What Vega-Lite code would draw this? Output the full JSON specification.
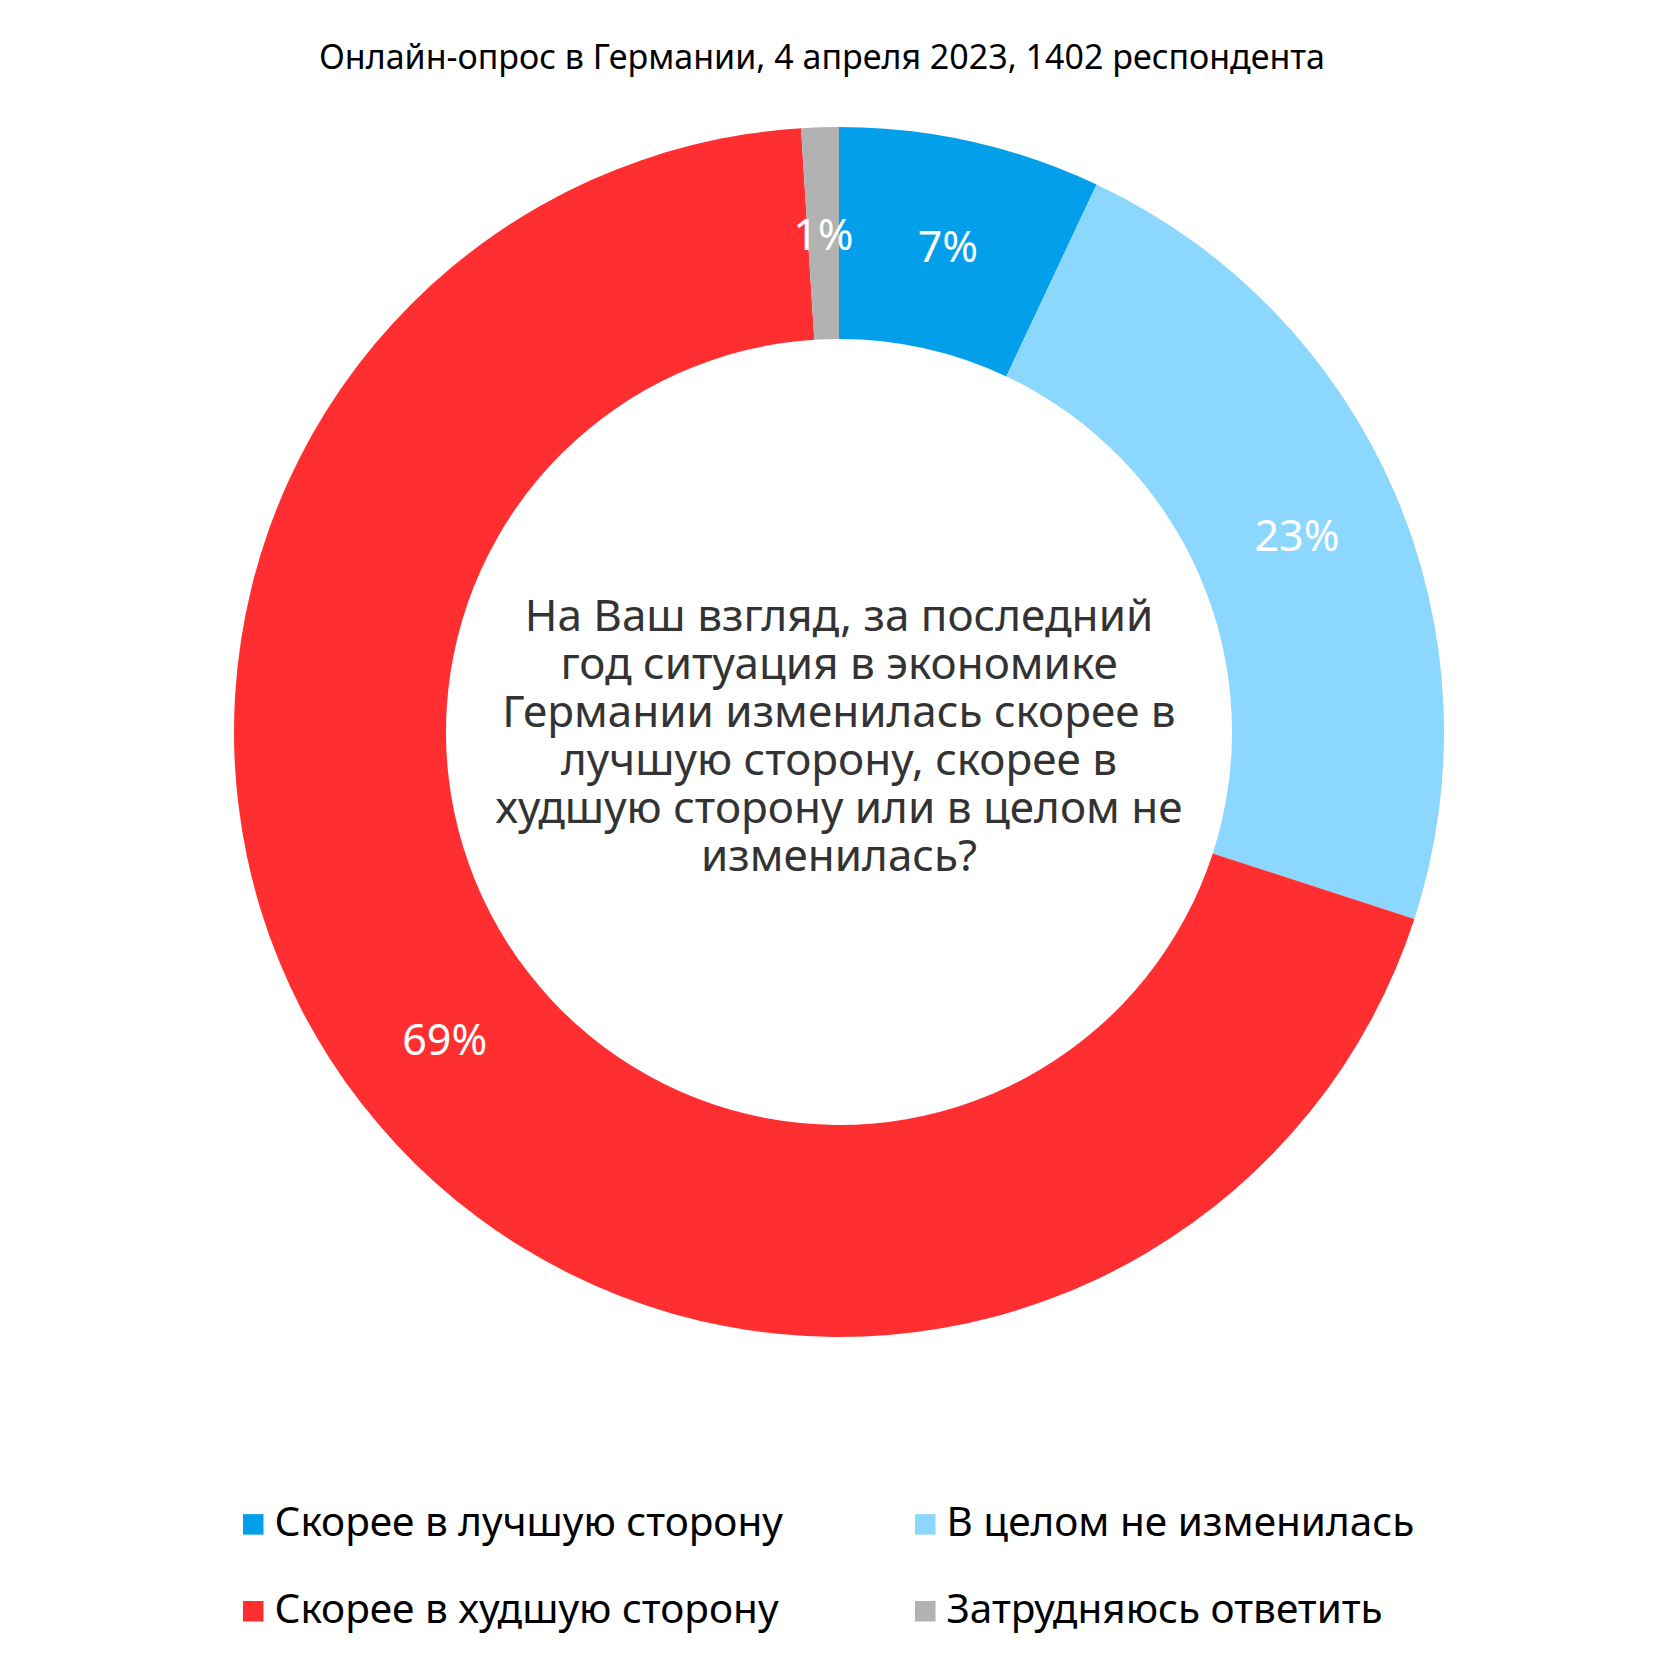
{
  "$schema": "https://vega.github.io/schema/vega-lite/v6.json",
  "autosize": "none",
  "width": 1678,
  "height": 1264,
  "padding": {"top": 100, "left": 0, "right": 2, "bottom": 316},
  "background": "white",
  "title": {
    "text": "Онлайн-опрос в Германии, 4 апреля 2023, 1402 респондента",
    "font": "Noto Sans",
    "fontSize": 34,
    "fontWeight": "normal",
    "color": "#000000",
    "anchor": "middle",
    "frame": "group",
    "baseline": "alphabetic",
    "offset": -3,
    "dx": -17
  },
  "data": {
    "values": [
      {"answer": "Скорее в лучшую сторону", "value": 7, "label": "7%", "ord": 1},
      {"answer": "В целом не изменилась", "value": 23, "label": "23%", "ord": 2},
      {"answer": "Скорее в худшую сторону", "value": 69, "label": "69%", "ord": 3},
      {"answer": "Затрудняюсь ответить", "value": 1, "label": "1%", "ord": 4}
    ]
  },
  "layer": [
    {
      "mark": {"type": "arc", "innerRadius": 393, "outerRadius": 605},
      "encoding": {
        "theta": {"field": "value", "type": "quantitative", "stack": true},
        "order": {"field": "ord", "type": "quantitative"},
        "color": {
          "field": "answer",
          "type": "nominal",
          "scale": {
            "domain": ["Скорее в лучшую сторону", "В целом не изменилась", "Скорее в худшую сторону", "Затрудняюсь ответить"],
            "range": ["#039FEA", "#8BD7FD", "#FF2F31", "#B2B2B2"]
          },
          "legend": {
            "title": null,
            "orient": "none",
            "legendX": 233,
            "legendY": 1404,
            "direction": "horizontal",
            "columns": 2,
            "columnPadding": 122,
            "rowPadding": 46,
            "symbolType": "square",
            "symbolSize": 420,
            "symbolStrokeWidth": 0,
            "symbolOffset": 0,
            "labelFont": "Noto Sans",
            "labelFontSize": 40.5,
            "labelColor": "#000000",
            "labelOffset": 1,
            "labelLimit": 800,
            "padding": 0
          }
        }
      }
    },
    {
      "mark": {"type": "text", "radius": 499, "font": "Noto Sans", "fontSize": 43, "fill": "#FFFFFF", "baseline": "middle", "align": "center", "dy": 4},
      "encoding": {
        "theta": {"field": "value", "type": "quantitative", "stack": true},
        "order": {"field": "ord", "type": "quantitative"},
        "text": {"field": "label", "type": "nominal"}
      }
    },
    {
      "data": {"values": [{"question": "На Ваш взгляд, за последний\nгод ситуация в экономике\nГермании изменилась скорее в\nлучшую сторону, скорее в\nхудшую сторону или в целом не\nизменилась?"}]},
      "mark": {"type": "text", "font": "Noto Sans", "fontSize": 44, "fill": "#333333", "lineBreak": "\n", "lineHeight": 48, "align": "center", "baseline": "middle", "dy": -114},
      "encoding": {
        "text": {"field": "question", "type": "nominal"}
      }
    }
  ]
}
